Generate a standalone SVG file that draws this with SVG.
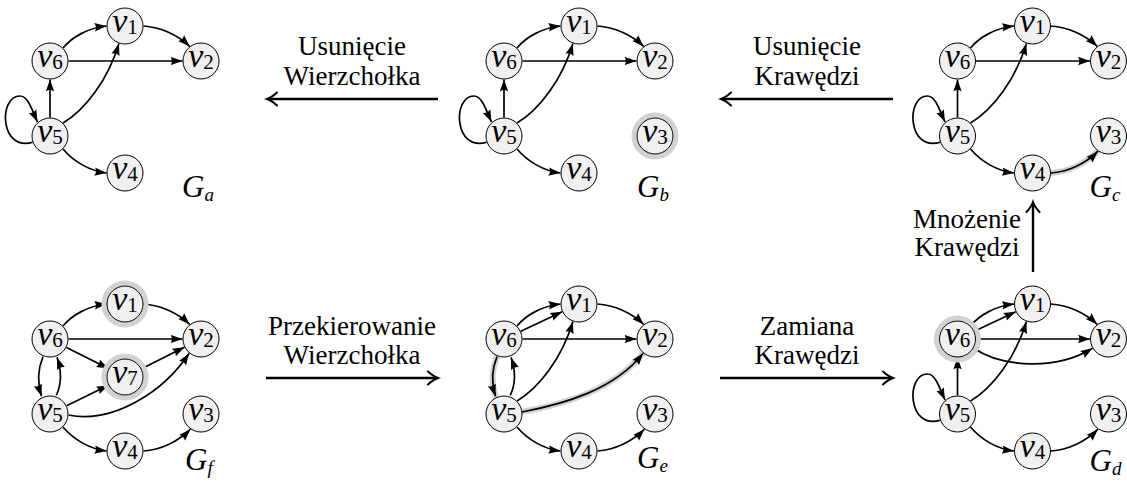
<svg xmlns="http://www.w3.org/2000/svg" width="1127" height="487" viewBox="0 0 1127 487" font-family="'Liberation Serif', 'DejaVu Serif', 'Times New Roman', serif">
<defs>
<marker id="ah" markerUnits="userSpaceOnUse" markerWidth="13" markerHeight="10" viewBox="0 0 13 10" refX="12" refY="5" orient="auto">
<path d="M0,0.8 L12,5 L0,9.2 Q2.8,5 0,0.8 Z" fill="#000"/>
</marker>
<marker id="big" markerUnits="userSpaceOnUse" markerWidth="16" markerHeight="16" viewBox="-12 -8 16 16" refX="0" refY="0" orient="auto">
<path d="M-9,-6.5 Q-3.5,-1.5 1,0 Q-3.5,1.5 -9,6.5" fill="none" stroke="#000" stroke-width="2" stroke-linecap="round"/>
</marker>
</defs>
<style>
.n{fill:#f0f0f0;stroke:#000;stroke-width:1}
.hn{fill:none;stroke:#d2d2d2;stroke-width:5}
.he{fill:none;stroke:#d2d2d2;stroke-width:6;stroke-linecap:round}
.e{fill:none;stroke:#000;stroke-width:1.7;marker-end:url(#ah)}
.t{font-style:italic;text-anchor:middle}
.v{font-size:34px}
.s{font-size:21px;font-style:normal}
.g{font-style:italic;font-size:31px}
.gs{font-size:19px}
.lbl{font-size:27px;text-anchor:middle;fill:#000}
.big{fill:none;stroke:#000;stroke-width:2.4;marker-end:url(#big)}
</style>

<g id="transitions">
<path class="big" d="M438,99 L268,99"/>
<path class="big" d="M893,99 L722,99"/>
<path class="big" d="M1033,272 L1033,203"/>
<path class="big" d="M266,378 L437,378"/>
<path class="big" d="M720,378 L892,378"/>
</g>
<g id="labels" font-family="Liberation Serif">
<text class="lbl" x="352" y="55">Usunięcie</text>
<text class="lbl" x="352" y="85">Wierzchołka</text>
<text class="lbl" x="807" y="55">Usunięcie</text>
<text class="lbl" x="807" y="85">Krawędzi</text>
<text class="lbl" x="967" y="228">Mnożenie</text>
<text class="lbl" x="967" y="256">Krawędzi</text>
<text class="lbl" x="352" y="335">Przekierowanie</text>
<text class="lbl" x="352" y="364">Wierzchołka</text>
<text class="lbl" x="807" y="335">Zamiana</text>
<text class="lbl" x="807" y="364">Krawędzi</text>
</g>

<g id="Ga" transform="translate(0,0)">
<g id="Ga-edges">
<path class="e" d="M63,48 C72,37 88,28 106.5,26"/>
<path class="e" d="M143.5,26 C160,27 178,35 189.7,46.4"/>
<path class="e" d="M68.5,61 L182.5,61"/>
<path class="e" d="M50,117.5 L50,79.5"/>
<path class="e" d="M63,123 C85,110 108,80 118.9,43.4"/>
<path class="e" d="M32.6,142.3 C0,152 -2,96 20,96 C28,96 32,110 37.5,122"/>
<path class="e" d="M63,149 C74,162 90,171 106.5,173"/>
</g>
<g id="Ga-v1"><circle class="n" cx="125" cy="26" r="18"/><text class="t" x="125" y="31.5"><tspan class="v">v</tspan><tspan class="s" dy="2">1</tspan></text></g>
<g id="Ga-v2"><circle class="n" cx="201" cy="61" r="18"/><text class="t" x="201" y="66.5"><tspan class="v">v</tspan><tspan class="s" dy="2">2</tspan></text></g>
<g id="Ga-v6"><circle class="n" cx="50" cy="61" r="18"/><text class="t" x="50" y="66.5"><tspan class="v">v</tspan><tspan class="s" dy="2">6</tspan></text></g>
<g id="Ga-v5"><circle class="n" cx="50" cy="136" r="18"/><text class="t" x="50" y="141.5"><tspan class="v">v</tspan><tspan class="s" dy="2">5</tspan></text></g>
<g id="Ga-v4"><circle class="n" cx="125" cy="173" r="18"/><text class="t" x="125" y="178.5"><tspan class="v">v</tspan><tspan class="s" dy="2">4</tspan></text></g>
<text class="g" x="182" y="197">G<tspan class="gs" dy="4">a</tspan></text>
</g>

<g id="Gb" transform="translate(454,0)">
<g id="Gb-edges">
<path class="e" d="M63,48 C72,37 88,28 106.5,26"/>
<path class="e" d="M143.5,26 C160,27 178,35 189.7,46.4"/>
<path class="e" d="M68.5,61 L182.5,61"/>
<path class="e" d="M50,117.5 L50,79.5"/>
<path class="e" d="M63,123 C85,110 108,80 118.9,43.4"/>
<path class="e" d="M32.6,142.3 C0,152 -2,96 20,96 C28,96 32,110 37.5,122"/>
<path class="e" d="M63,149 C74,162 90,171 106.5,173"/>
</g>
<g id="Gb-v1"><circle class="n" cx="125" cy="26" r="18"/><text class="t" x="125" y="31.5"><tspan class="v">v</tspan><tspan class="s" dy="2">1</tspan></text></g>
<g id="Gb-v2"><circle class="n" cx="201" cy="61" r="18"/><text class="t" x="201" y="66.5"><tspan class="v">v</tspan><tspan class="s" dy="2">2</tspan></text></g>
<g id="Gb-v3"><circle class="hn" cx="201" cy="136" r="21"/><circle class="n" cx="201" cy="136" r="18"/><text class="t" x="201" y="141.5"><tspan class="v">v</tspan><tspan class="s" dy="2">3</tspan></text></g>
<g id="Gb-v6"><circle class="n" cx="50" cy="61" r="18"/><text class="t" x="50" y="66.5"><tspan class="v">v</tspan><tspan class="s" dy="2">6</tspan></text></g>
<g id="Gb-v5"><circle class="n" cx="50" cy="136" r="18"/><text class="t" x="50" y="141.5"><tspan class="v">v</tspan><tspan class="s" dy="2">5</tspan></text></g>
<g id="Gb-v4"><circle class="n" cx="125" cy="173" r="18"/><text class="t" x="125" y="178.5"><tspan class="v">v</tspan><tspan class="s" dy="2">4</tspan></text></g>
<text class="g" x="183" y="197">G<tspan class="gs" dy="4">b</tspan></text>
</g>

<g id="Gc" transform="translate(907.5,0)">
<g id="Gc-edges">
<path class="he" d="M143.5,173 C160,172 178,164 190.4,151.2"/>
<path class="e" d="M63,48 C72,37 88,28 106.5,26"/>
<path class="e" d="M143.5,26 C160,27 178,35 189.7,46.4"/>
<path class="e" d="M68.5,61 L182.5,61"/>
<path class="e" d="M50,117.5 L50,79.5"/>
<path class="e" d="M63,123 C85,110 108,80 118.9,43.4"/>
<path class="e" d="M32.6,142.3 C0,152 -2,96 20,96 C28,96 32,110 37.5,122"/>
<path class="e" d="M63,149 C74,162 90,171 106.5,173"/>
<path class="e" d="M143.5,173 C160,172 178,164 190.4,151.2"/>
</g>
<g id="Gc-v1"><circle class="n" cx="125" cy="26" r="18"/><text class="t" x="125" y="31.5"><tspan class="v">v</tspan><tspan class="s" dy="2">1</tspan></text></g>
<g id="Gc-v2"><circle class="n" cx="201" cy="61" r="18"/><text class="t" x="201" y="66.5"><tspan class="v">v</tspan><tspan class="s" dy="2">2</tspan></text></g>
<g id="Gc-v3"><circle class="n" cx="201" cy="136" r="18"/><text class="t" x="201" y="141.5"><tspan class="v">v</tspan><tspan class="s" dy="2">3</tspan></text></g>
<g id="Gc-v6"><circle class="n" cx="50" cy="61" r="18"/><text class="t" x="50" y="66.5"><tspan class="v">v</tspan><tspan class="s" dy="2">6</tspan></text></g>
<g id="Gc-v5"><circle class="n" cx="50" cy="136" r="18"/><text class="t" x="50" y="141.5"><tspan class="v">v</tspan><tspan class="s" dy="2">5</tspan></text></g>
<g id="Gc-v4"><circle class="n" cx="125" cy="173" r="18"/><text class="t" x="125" y="178.5"><tspan class="v">v</tspan><tspan class="s" dy="2">4</tspan></text></g>
<text class="g" x="182" y="197">G<tspan class="gs" dy="4">c</tspan></text>
</g>

<g id="Gf" transform="translate(0,278)">
<g id="Gf-edges">
<path class="e" d="M63,48 C72,37 88,28 106.5,26"/>
<path class="e" d="M143.5,26 C160,27 178,35 189.7,46.4"/>
<path class="e" d="M68.5,61 L182.5,61"/>
<path class="e" d="M66.5,69.4 L108.5,90.6"/>
<path class="e" d="M141.5,90.7 L184.5,69.3"/>
<path class="e" d="M66.6,127.8 L108.4,107.2"/>
<path class="e" d="M68.5,137 C115,146 165,112 189.1,75.2"/>
<path class="e" d="M43,78.6 C37.5,92 37.5,106 41.5,118.3"/>
<path class="e" d="M56.3,117.4 C61.5,106 61.5,92 57,79.4"/>
<path class="e" d="M63,149 C74,162 90,171 106.5,173"/>
<path class="e" d="M143.5,173 C160,172 178,164 190.4,151.2"/>
</g>
<g id="Gf-v1"><circle class="hn" cx="125" cy="26" r="21"/><circle class="n" cx="125" cy="26" r="18"/><text class="t" x="125" y="31.5"><tspan class="v">v</tspan><tspan class="s" dy="2">1</tspan></text></g>
<g id="Gf-v2"><circle class="n" cx="201" cy="61" r="18"/><text class="t" x="201" y="66.5"><tspan class="v">v</tspan><tspan class="s" dy="2">2</tspan></text></g>
<g id="Gf-v3"><circle class="n" cx="201" cy="136" r="18"/><text class="t" x="201" y="141.5"><tspan class="v">v</tspan><tspan class="s" dy="2">3</tspan></text></g>
<g id="Gf-v7"><circle class="hn" cx="125" cy="99" r="21"/><circle class="n" cx="125" cy="99" r="18"/><text class="t" x="125" y="104.5"><tspan class="v">v</tspan><tspan class="s" dy="2">7</tspan></text></g>
<g id="Gf-v6"><circle class="n" cx="50" cy="61" r="18"/><text class="t" x="50" y="66.5"><tspan class="v">v</tspan><tspan class="s" dy="2">6</tspan></text></g>
<g id="Gf-v5"><circle class="n" cx="50" cy="136" r="18"/><text class="t" x="50" y="141.5"><tspan class="v">v</tspan><tspan class="s" dy="2">5</tspan></text></g>
<g id="Gf-v4"><circle class="n" cx="125" cy="173" r="18"/><text class="t" x="125" y="178.5"><tspan class="v">v</tspan><tspan class="s" dy="2">4</tspan></text></g>
<text class="g" x="185" y="192">G<tspan class="gs" dy="4">f</tspan></text>
</g>

<g id="Ge" transform="translate(454,278)">
<g id="Ge-edges">
<path class="he" d="M43,78.6 C37.5,92 37.5,106 41.5,118.3"/>
<path class="he" d="M68,134 C110,126 160,112 189.1,75.2"/>
<path class="e" d="M63,48 C72,37 88,28 106.5,26"/>
<path class="e" d="M66.8,53.2 L108.2,33.8"/>
<path class="e" d="M143.5,26 C160,27 178,35 189.7,46.4"/>
<path class="e" d="M68.5,61 L182.5,61"/>
<path class="e" d="M63,123 C85,110 108,80 118.9,43.4"/>
<path class="e" d="M68,134 C110,126 160,112 189.1,75.2"/>
<path class="e" d="M43,78.6 C37.5,92 37.5,106 41.5,118.3"/>
<path class="e" d="M56.3,117.4 C61.5,106 61.5,92 57,79.4"/>
<path class="e" d="M63,149 C74,162 90,171 106.5,173"/>
<path class="e" d="M143.5,173 C160,172 178,164 190.4,151.2"/>
</g>
<g id="Ge-v1"><circle class="n" cx="125" cy="26" r="18"/><text class="t" x="125" y="31.5"><tspan class="v">v</tspan><tspan class="s" dy="2">1</tspan></text></g>
<g id="Ge-v2"><circle class="n" cx="201" cy="61" r="18"/><text class="t" x="201" y="66.5"><tspan class="v">v</tspan><tspan class="s" dy="2">2</tspan></text></g>
<g id="Ge-v3"><circle class="n" cx="201" cy="136" r="18"/><text class="t" x="201" y="141.5"><tspan class="v">v</tspan><tspan class="s" dy="2">3</tspan></text></g>
<g id="Ge-v6"><circle class="n" cx="50" cy="61" r="18"/><text class="t" x="50" y="66.5"><tspan class="v">v</tspan><tspan class="s" dy="2">6</tspan></text></g>
<g id="Ge-v5"><circle class="n" cx="50" cy="136" r="18"/><text class="t" x="50" y="141.5"><tspan class="v">v</tspan><tspan class="s" dy="2">5</tspan></text></g>
<g id="Ge-v4"><circle class="n" cx="125" cy="173" r="18"/><text class="t" x="125" y="178.5"><tspan class="v">v</tspan><tspan class="s" dy="2">4</tspan></text></g>
<text class="g" x="183" y="190">G<tspan class="gs" dy="4">e</tspan></text>
</g>

<g id="Gd" transform="translate(907.5,278)">
<g id="Gd-edges">
<path class="e" d="M63,48 C72,37 88,28 106.5,26"/>
<path class="e" d="M66.8,53.2 L108.2,33.8"/>
<path class="e" d="M143.5,26 C160,27 178,35 189.7,46.4"/>
<path class="e" d="M68.5,61 L182.5,61"/>
<path class="e" d="M66,70 C95,90 150,92 185,70.3"/>
<path class="e" d="M50,117.5 L50,79.5"/>
<path class="e" d="M63,123 C85,110 108,80 118.9,43.4"/>
<path class="e" d="M32.6,142.3 C0,152 -2,96 20,96 C28,96 32,110 37.5,122"/>
<path class="e" d="M63,149 C74,162 90,171 106.5,173"/>
<path class="e" d="M143.5,173 C160,172 178,164 190.4,151.2"/>
</g>
<g id="Gd-v1"><circle class="n" cx="125" cy="26" r="18"/><text class="t" x="125" y="31.5"><tspan class="v">v</tspan><tspan class="s" dy="2">1</tspan></text></g>
<g id="Gd-v2"><circle class="n" cx="201" cy="61" r="18"/><text class="t" x="201" y="66.5"><tspan class="v">v</tspan><tspan class="s" dy="2">2</tspan></text></g>
<g id="Gd-v3"><circle class="n" cx="201" cy="136" r="18"/><text class="t" x="201" y="141.5"><tspan class="v">v</tspan><tspan class="s" dy="2">3</tspan></text></g>
<g id="Gd-v6"><circle class="hn" cx="50" cy="61" r="21"/><circle class="n" cx="50" cy="61" r="18"/><text class="t" x="50" y="66.5"><tspan class="v">v</tspan><tspan class="s" dy="2">6</tspan></text></g>
<g id="Gd-v5"><circle class="n" cx="50" cy="136" r="18"/><text class="t" x="50" y="141.5"><tspan class="v">v</tspan><tspan class="s" dy="2">5</tspan></text></g>
<g id="Gd-v4"><circle class="n" cx="125" cy="173" r="18"/><text class="t" x="125" y="178.5"><tspan class="v">v</tspan><tspan class="s" dy="2">4</tspan></text></g>
<text class="g" x="182" y="193">G<tspan class="gs" dy="4">d</tspan></text>
</g>
</svg>
